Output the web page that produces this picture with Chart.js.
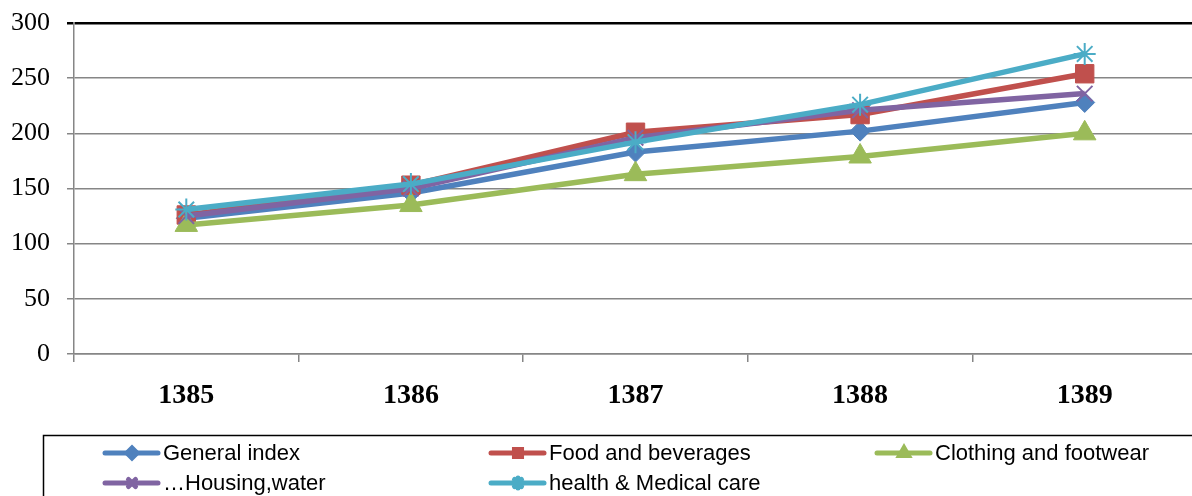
<!DOCTYPE html>
<html>
<head>
<meta charset="utf-8">
<script src="https://cdn.jsdelivr.net/npm/chart.js@4/dist/chart.umd.min.js"></script>
<style>
  html, body { margin: 0; padding: 0; background: #fff; overflow: hidden; }
  #wrap { width: 1211px; height: 496px; }
</style>
</head>
<body>
<div id="wrap"><canvas id="grafico" width="1211" height="496"></canvas></div>
<script>
// dados
const anos = ['1385', '1386', '1387', '1388', '1389'];
const yTicks = [0, 50, 100, 150, 200, 250, 300];

const generalIndex = [123, 146, 183, 202, 228];
const foodBeverages = [126, 153, 201, 217, 254];
const clothingFootwear = [117, 135, 163, 179, 200];
const housingWater = [125, 150, 196, 221, 236];
const healthMedical = [131, 154, 192, 226, 272];

const nomes = ['General index', 'Food and beverages', 'Clothing and footwear', '…Housing,water', 'health & Medical care'];
const cores = ['#4F81BD', '#C0504D', '#9BBB59', '#8064A2', '#4BACC6'];
const estilos = ['rectRot', 'rect', 'triangle', 'crossRot', 'star'];
const raios = [10, 13, 13, 11, 11];
const series = [generalIndex, foodBeverages, clothingFootwear, housingWater, healthMedical];

const cinza = '#868686';

// legenda desenhada na mão, igual ao excel
const legendaPlugin = {
    id: 'legendaCaixa',
    afterDraw(chart) {
        const ctx = chart.ctx;
        ctx.save();
        ctx.strokeStyle = '#000';
        ctx.lineWidth = 1.5;
        ctx.strokeRect(43.5, 435.5, 1200, 100);

        ctx.font = '22px "Liberation Sans", Arial, sans-serif';
        ctx.textBaseline = 'middle';
        ctx.textAlign = 'left';

        chart.data.datasets.forEach((ds, i) => {
            const col = i % 3;
            const row = Math.floor(i / 3);
            const x0 = 105 + col * 386;
            const y = 453 + row * 30;

            ctx.strokeStyle = ds.borderColor;
            ctx.lineWidth = 5;
            ctx.lineCap = 'round';
            ctx.beginPath();
            ctx.moveTo(x0, y);
            ctx.lineTo(x0 + 53, y);
            ctx.stroke();

            ctx.fillStyle = ds.borderColor;
            ctx.strokeStyle = ds.borderColor;
            Chart.helpers.drawPoint(ctx, {
                pointStyle: ds.pointStyle,
                radius: 5,
                borderWidth: 1.5,
                rotation: 0
            }, x0 + 27, y);

            ctx.fillStyle = '#000';
            ctx.fillText(ds.label, x0 + 58, y + 1);
        });
        ctx.restore();
    }
};

const datasets = series.map((valores, i) => ({
    label: nomes[i],
    data: valores,
    borderColor: cores[i],
    backgroundColor: cores[i],
    borderWidth: 5.5,
    pointStyle: estilos[i],
    pointRadius: raios[i],
    pointBorderWidth: (estilos[i] === 'crossRot' || estilos[i] === 'star') ? 2 : 1,
    pointBorderColor: cores[i],
    pointBackgroundColor: cores[i],
    tension: 0,
    order: 4 - i
}));

new Chart(document.getElementById('grafico'), {
    type: 'line',
    data: { labels: anos, datasets: datasets },
    options: {
        responsive: false,
        animation: false,
        layout: { padding: { top: 23, bottom: 82, right: 2, left: 0 } },
        plugins: {
            legend: { display: false },
            tooltip: { enabled: false }
        },
        scales: {
            x: {
                offset: true,
                afterFit(scale) {
                    scale.height = 60;
                    scale.paddingLeft = 0;
                    scale.paddingRight = 0;
                },
                grid: {
                    offset: true,
                    drawOnChartArea: false,
                    drawTicks: true,
                    tickLength: 8,
                    color: cinza,
                    lineWidth: 1.5
                },
                border: { color: cinza, width: 1.5 },
                ticks: {
                    padding: 17,
                    color: '#000',
                    maxRotation: 0,
                    font: { family: '"Liberation Serif", "Times New Roman", serif', size: 28, weight: 'bold' }
                }
            },
            y: {
                min: 0,
                max: 300,
                afterFit(scale) {
                    scale.width = 74;
                    scale.paddingTop = 0;
                    scale.paddingBottom = 0;
                },
                afterBuildTicks(scale) { scale.ticks = yTicks.map(v => ({ value: v })); },
                grid: {
                    tickLength: 7,
                    color: (c) => c.tick && c.tick.value === 300 ? '#000' : cinza,
                    lineWidth: (c) => c.tick && c.tick.value === 300 ? 2.5 : 1.5
                },
                border: { color: cinza, width: 1.5 },
                ticks: {
                    padding: 17,
                    color: '#000',
                    font: { family: '"Liberation Serif", "Times New Roman", serif', size: 26 }
                }
            }
        }
    },
    plugins: [legendaPlugin]
});
</script>
</body>
</html>
